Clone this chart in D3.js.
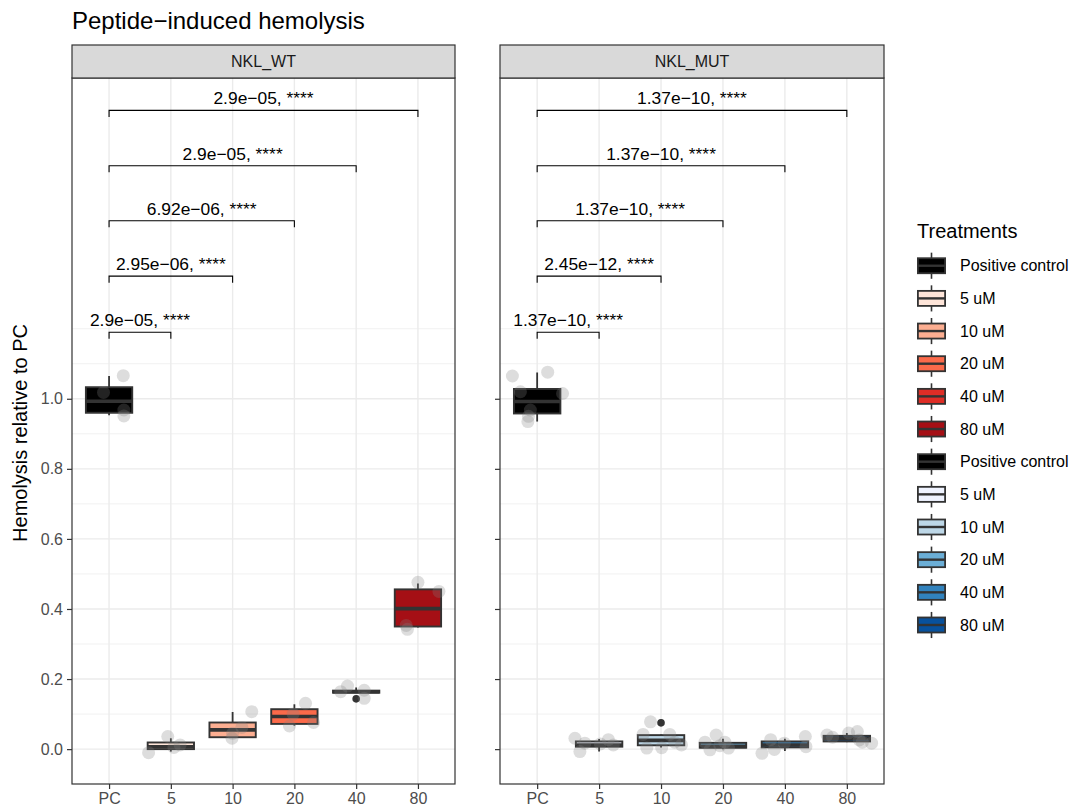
<!DOCTYPE html>
<html>
<head>
<meta charset="utf-8">
<script src="https://cdn.jsdelivr.net/npm/d3@7"></script>
<style>
  body { margin: 0; background: #fff; }
  text { font-family: "Liberation Sans", Arial, Helvetica, sans-serif; }
</style>
</head>
<body>
<div id="chart"></div>
<script>
var categories = ["PC", "5", "10", "20", "40", "80"];
var panelNames = ["NKL_WT", "NKL_MUT"];
var legendLabels = ["Positive control", "5 uM", "10 uM", "20 uM", "40 uM", "80 uM"];
var wtColors = ["#000000", "#FEE5D9", "#FCAE91", "#FB6A4A", "#DE2D26", "#A50F15"];
var mutColors = ["#000000", "#EFF3FF", "#BDD7E7", "#6BAED6", "#3182BD", "#08519C"];

// box stats, one value per category
var wtLower  = [0.953, -0.007, 0.034, 0.067, 0.161, 0.347];
var wtQ1     = [0.960,  0.000, 0.034, 0.072, 0.161, 0.350];
var wtMedian = [0.993,  0.007, 0.055, 0.093, 0.164, 0.401];
var wtQ3     = [1.033,  0.019, 0.076, 0.114, 0.167, 0.456];
var wtUpper  = [1.065,  0.031, 0.106, 0.128, 0.176, 0.473];

var mutLower  = [0.935, -0.007, 0.005, 0.000, -0.005, 0.020];
var mutQ1     = [0.958,  0.007, 0.011, 0.004,  0.005, 0.022];
var mutMedian = [0.992,  0.012, 0.025, 0.008,  0.012, 0.030];
var mutQ3     = [1.028,  0.022, 0.040, 0.018,  0.022, 0.038];
var mutUpper  = [1.075,  0.029, 0.042, 0.030,  0.030, 0.046];

var wtOutliers = [["40", 0.1435]];
var mutOutliers = [["10", 0.075]];

// jittered replicates: [category, jitter (in category widths), value]
var wtPoints = [
  ["PC", 0.23, 1.066], ["PC", -0.09, 1.018], ["PC", 0.24, 0.968], ["PC", 0.24, 0.951],
  ["5", -0.36, -0.010], ["5", -0.05, 0.036], ["5", 0.05, 0.005], ["5", 0.15, 0.012],
  ["10", 0.31, 0.107], ["10", -0.01, 0.031], ["10", 0.15, 0.062], ["10", 0.00, 0.045],
  ["20", 0.18, 0.131], ["20", -0.08, 0.066], ["20", 0.31, 0.076], ["20", -0.02, 0.100],
  ["40", -0.25, 0.164], ["40", -0.14, 0.180], ["40", 0.13, 0.168], ["40", 0.13, 0.145],
  ["80", 0.00, 0.476], ["80", -0.19, 0.353], ["80", -0.17, 0.342], ["80", 0.34, 0.450]
];
var mutPoints = [
  ["PC", -0.40, 1.065], ["PC", 0.17, 1.076], ["PC", -0.27, 1.020], ["PC", 0.41, 1.015],
  ["PC", -0.11, 0.968], ["PC", -0.15, 0.935], ["PC", -0.14, 0.950],
  ["5", -0.39, 0.031], ["5", -0.23, 0.017], ["5", -0.31, -0.007], ["5", 0.15, 0.027],
  ["5", 0.23, 0.012], ["5", 0.02, 0.015],
  ["10", -0.17, 0.078], ["10", -0.29, 0.042], ["10", 0.14, 0.042], ["10", -0.23, 0.003],
  ["10", 0.01, 0.004], ["10", 0.33, 0.012], ["10", 0.22, 0.020],
  ["20", -0.11, 0.040], ["20", -0.29, 0.020], ["20", -0.21, -0.002], ["20", 0.03, 0.020],
  ["20", 0.09, 0.003], ["20", -0.05, 0.010],
  ["40", -0.37, -0.012], ["40", -0.23, 0.027], ["40", -0.17, -0.001], ["40", -0.01, 0.017],
  ["40", 0.33, 0.036], ["40", 0.34, 0.007],
  ["80", -0.32, 0.040], ["80", -0.23, 0.034], ["80", 0.03, 0.046], ["80", 0.17, 0.050],
  ["80", 0.20, 0.026], ["80", 0.40, 0.017], ["80", 0.25, 0.020]
];

// PC vs each dose
var wtPvals = ["2.9e\u221205", "2.95e\u221206", "6.92e\u221206", "2.9e\u221205", "2.9e\u221205"];
var mutPvals = ["1.37e\u221210", "2.45e\u221212", "1.37e\u221210", "1.37e\u221210", "1.37e\u221210"];
var pSignif = "****";
var bracketY = [1.19, 1.35, 1.508, 1.665, 1.823];

var yTicks = [0, 0.2, 0.4, 0.6, 0.8, 1.0];
var yMinor = [0.1, 0.3, 0.5, 0.7, 0.9, 1.1, 1.2];

var width = 1077, height = 810;
var panelTop = 78, panelBottom = 784, stripTop = 45;
var panelX = [[72, 455], [500, 884]];

var svg = d3.select("#chart").append("svg")
  .attr("width", width)
  .attr("height", height)
  .style("background", "#fff");

var y = d3.scaleLinear()
  .domain([-0.0995, 1.9155])
  .range([panelBottom, panelTop]);

svg.append("text")
  .attr("x", 72)
  .attr("y", 29)
  .attr("font-size", 24)
  .attr("fill", "#000")
  .text("Peptide\u2212induced hemolysis");

svg.append("text")
  .attr("transform", "translate(27," + 433 + ") rotate(-90)")
  .attr("text-anchor", "middle")
  .attr("font-size", 20)
  .attr("fill", "#000")
  .text("Hemolysis relative to PC");

var panels = [
  {name: panelNames[0], colors: wtColors, lower: wtLower, q1: wtQ1, median: wtMedian, q3: wtQ3,
   upper: wtUpper, outliers: wtOutliers, points: wtPoints, pvals: wtPvals},
  {name: panelNames[1], colors: mutColors, lower: mutLower, q1: mutQ1, median: mutMedian, q3: mutQ3,
   upper: mutUpper, outliers: mutOutliers, points: mutPoints, pvals: mutPvals}
];

panels.forEach(function(p, pi) {
  var x0 = panelX[pi][0], x1 = panelX[pi][1];
  var x = d3.scalePoint()
    .domain(categories)
    .range([x0, x1])
    .padding(0.6);
  var step = x.step();
  var g = svg.append("g");

  // grid
  g.selectAll(".minor").data(yMinor).enter().append("line")
    .attr("x1", x0).attr("x2", x1)
    .attr("y1", function(d) { return y(d); })
    .attr("y2", function(d) { return y(d); })
    .attr("stroke", "#EBEBEB").attr("stroke-width", 0.7);
  g.selectAll(".major").data(yTicks).enter().append("line")
    .attr("x1", x0).attr("x2", x1)
    .attr("y1", function(d) { return y(d); })
    .attr("y2", function(d) { return y(d); })
    .attr("stroke", "#EBEBEB").attr("stroke-width", 1.4);
  g.selectAll(".vgrid").data(categories).enter().append("line")
    .attr("x1", function(d) { return x(d); })
    .attr("x2", function(d) { return x(d); })
    .attr("y1", panelTop).attr("y2", panelBottom)
    .attr("stroke", "#EBEBEB").attr("stroke-width", 1.4);

  // boxes
  var bw = step * 0.75;
  categories.forEach(function(c, i) {
    var cx = x(c);
    g.append("line")
      .attr("x1", cx).attr("x2", cx)
      .attr("y1", y(p.upper[i])).attr("y2", y(p.lower[i]))
      .attr("stroke", "#333").attr("stroke-width", 1.8);
    g.append("rect")
      .attr("x", cx - bw / 2)
      .attr("y", y(p.q3[i]))
      .attr("width", bw)
      .attr("height", Math.max(y(p.q1[i]) - y(p.q3[i]), 0.5))
      .attr("fill", p.colors[i])
      .attr("stroke", "#333").attr("stroke-width", 1.9);
    g.append("line")
      .attr("x1", cx - bw / 2).attr("x2", cx + bw / 2)
      .attr("y1", y(p.median[i])).attr("y2", y(p.median[i]))
      .attr("stroke", "#333").attr("stroke-width", 3.6);
  });

  g.selectAll(".outlier").data(p.outliers).enter().append("circle")
    .attr("cx", function(d) { return x(d[0]); })
    .attr("cy", function(d) { return y(d[1]); })
    .attr("r", 3.8)
    .attr("fill", "#333");

  g.selectAll(".pt").data(p.points).enter().append("circle")
    .attr("cx", function(d) { return x(d[0]) + d[1] * step; })
    .attr("cy", function(d) { return y(d[2]); })
    .attr("r", 6.5)
    .attr("fill", "#808080")
    .attr("fill-opacity", 0.27);

  // brackets
  categories.slice(1).forEach(function(c, i) {
    var by = y(bracketY[i]);
    var xa = x("PC"), xb = x(c);
    g.append("path")
      .attr("d", "M" + xa + "," + (by + 6.5) + "V" + by + "H" + xb + "V" + (by + 6.5))
      .attr("fill", "none")
      .attr("stroke", "#000").attr("stroke-width", 1.1);
    g.append("text")
      .attr("x", (xa + xb) / 2)
      .attr("y", by - 6)
      .attr("text-anchor", "middle")
      .attr("font-size", 17.4)
      .attr("fill", "#000")
      .text(p.pvals[i] + ", " + pSignif);
  });

  // border
  g.append("rect")
    .attr("x", x0).attr("y", panelTop)
    .attr("width", x1 - x0).attr("height", panelBottom - panelTop)
    .attr("fill", "none").attr("stroke", "#333").attr("stroke-width", 1.2);

  // strip
  g.append("rect")
    .attr("x", x0).attr("y", stripTop)
    .attr("width", x1 - x0).attr("height", panelTop - stripTop)
    .attr("fill", "#D9D9D9").attr("stroke", "#333").attr("stroke-width", 1.2);
  g.append("text")
    .attr("x", (x0 + x1) / 2)
    .attr("y", (stripTop + panelTop) / 2)
    .attr("dy", "0.36em")
    .attr("text-anchor", "middle")
    .attr("font-size", 16)
    .attr("fill", "#1A1A1A")
    .text(p.name);

  // axes
  var xAxis = g.append("g")
    .attr("transform", "translate(0," + panelBottom + ")")
    .call(d3.axisBottom(x).tickSize(5).tickPadding(4));
  xAxis.select(".domain").remove();
  xAxis.selectAll("line").attr("stroke", "#333").attr("stroke-width", 1.2);
  xAxis.selectAll("text").attr("font-size", 16).attr("fill", "#4D4D4D")
    .style("font-family", "'Liberation Sans', Arial, sans-serif");

  var yAxis = g.append("g")
    .attr("transform", "translate(" + x0 + ",0)")
    .call(d3.axisLeft(y).tickValues(yTicks).tickFormat(d3.format(".1f")).tickSize(5).tickPadding(4));
  yAxis.select(".domain").remove();
  yAxis.selectAll("line").attr("stroke", "#333").attr("stroke-width", 1.2);
  yAxis.selectAll("text").attr("font-size", 16).attr("fill", "#4D4D4D")
    .style("font-family", "'Liberation Sans', Arial, sans-serif");
  if (pi > 0) yAxis.selectAll("text").remove();
});

// legend
var legend = svg.append("g").attr("class", "legend");
legend.append("text")
  .attr("x", 917)
  .attr("y", 238)
  .attr("font-size", 20)
  .attr("fill", "#000")
  .text("Treatments");

var legendData = [];
legendLabels.forEach(function(l, i) { legendData.push({name: l, color: wtColors[i]}); });
legendLabels.forEach(function(l, i) { legendData.push({name: l, color: mutColors[i]}); });

var keyH = 32.66, keyW = 34, keyX = 914.5, keyY = 249.4;
legendData.forEach(function(d, i) {
  var top = keyY + i * keyH;
  var cx = keyX + keyW / 2;
  legend.append("line")
    .attr("x1", cx).attr("x2", cx)
    .attr("y1", top + keyH * 0.1).attr("y2", top + keyH * 0.9)
    .attr("stroke", "#333").attr("stroke-width", 1.6);
  legend.append("rect")
    .attr("x", keyX + keyW * 0.1)
    .attr("y", top + keyH * 0.27)
    .attr("width", keyW * 0.8)
    .attr("height", keyH * 0.46)
    .attr("fill", d.color)
    .attr("stroke", "#333").attr("stroke-width", 1.8);
  legend.append("line")
    .attr("x1", keyX + keyW * 0.1).attr("x2", keyX + keyW * 0.9)
    .attr("y1", top + keyH / 2).attr("y2", top + keyH / 2)
    .attr("stroke", "#333").attr("stroke-width", 2.4);
  legend.append("text")
    .attr("x", 960)
    .attr("y", top + keyH / 2)
    .attr("dy", "0.36em")
    .attr("font-size", 16)
    .attr("fill", "#000")
    .text(d.name);
});
</script>
</body>
</html>
